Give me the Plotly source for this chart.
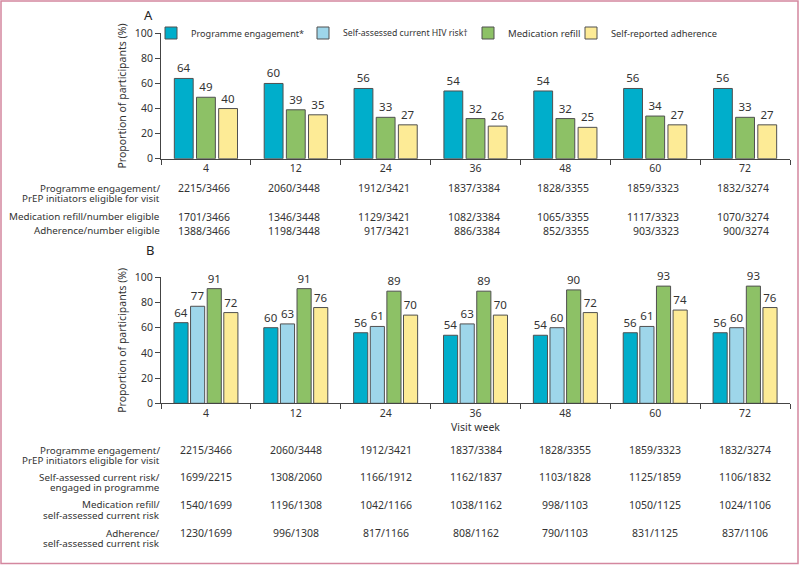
import plotly.graph_objects as go

# ---------------- data ----------------
weeks = ["4", "12", "24", "36", "48", "60", "72"]

# Panel A (% of PrEP initiators eligible for visit)
a_engagement = [64, 60, 56, 54, 54, 56, 56]
a_refill = [49, 39, 33, 32, 32, 34, 33]
a_adherence = [40, 35, 27, 26, 25, 27, 27]

# Panel B (cascade)
b_engagement = [64, 60, 56, 54, 54, 56, 56]
b_selfrisk = [77, 63, 61, 63, 60, 61, 60]
b_refill = [91, 91, 89, 89, 90, 93, 93]
b_adherence = [72, 76, 70, 70, 72, 74, 76]

series_names = ["Programme engagement*", "Self-assessed current HIV risk\u2020",
                "Medication refill", "Self-reported adherence"]

# Table under panel A
tabA_labels = [["Programme engagement/", "PrEP initiators eligible for visit"],
               ["Medication refill/number eligible"],
               ["Adherence/number eligible"]]
tabA_engagement = ["2215/3466", "2060/3448", "1912/3421", "1837/3384", "1828/3355", "1859/3323", "1832/3274"]
tabA_refill = ["1701/3466", "1346/3448", "1129/3421", "1082/3384", "1065/3355", "1117/3323", "1070/3274"]
tabA_adherence = ["1388/3466", "1198/3448", "917/3421", "886/3384", "852/3355", "903/3323", "900/3274"]

# Table under panel B
tabB_labels = [["Programme engagement/", "PrEP initiators eligible for visit"],
               ["Self-assessed current risk/", "engaged in programme"],
               ["Medication refill/", "self-assessed current risk"],
               ["Adherence/", "self-assessed current risk"]]
tabB_engagement = ["2215/3466", "2060/3448", "1912/3421", "1837/3384", "1828/3355", "1859/3323", "1832/3274"]
tabB_selfrisk = ["1699/2215", "1308/2060", "1166/1912", "1162/1837", "1103/1828", "1125/1859", "1106/1832"]
tabB_refill = ["1540/1699", "1196/1308", "1042/1166", "1038/1162", "998/1103", "1050/1125", "1024/1106"]
tabB_adherence = ["1230/1699", "996/1308", "817/1166", "808/1162", "790/1103", "831/1125", "837/1106"]

# ---------------- style ----------------
W, H = 800, 565
FONT = "Noto Sans"
TXT = "#333333"
AX = "#444444"
colors = ["#00AECB", "#9ED6EA", "#8DC166", "#FDEB96"]
OUTLINE = "#505050"
legend_ids = ["legend", "legend2", "legend3", "legend4"]
legend_left_px = [151, 303, 468, 571]
legend_font_sizes = [9.1, 8.7, 9.6, 9.3]

def px_y(py):
    return 1 - py / H

fig = go.Figure()

def add_bar(vals, k, xa, ya, show):
    fig.add_trace(go.Bar(
        x=weeks, y=vals, name=series_names[k], legendgroup=series_names[k],
        showlegend=show, legend=legend_ids[k],
        marker=dict(color=colors[k], line=dict(color=OUTLINE, width=1)),
        text=[str(v) for v in vals], textposition="outside",
        textfont=dict(family=FONT, size=11.5, color=TXT),
        constraintext="none", cliponaxis=False,
        xaxis=xa, yaxis=ya, hoverinfo="skip",
    ))

add_bar(a_engagement, 0, "x", "y", False)
add_bar(a_refill, 2, "x", "y", False)
add_bar(a_adherence, 3, "x", "y", False)

add_bar(b_engagement, 0, "x2", "y2", True)
add_bar(b_selfrisk, 1, "x2", "y2", True)
add_bar(b_refill, 2, "x2", "y2", True)
add_bar(b_adherence, 3, "x2", "y2", True)

xdom = [161 / W, 790 / W]
xcommon = dict(type="category", categoryorder="array", categoryarray=weeks,
               range=[-0.5, len(weeks) - 0.5], autorange=False,
               domain=xdom, showline=True, linecolor=AX, linewidth=1,
               ticks="outside", tickson="boundaries", ticklen=5, tickcolor=AX,
               showgrid=False, zeroline=False, automargin=False, tickangle=0,
               tickfont=dict(family=FONT, size=10.5, color=TXT))
ycommon = dict(range=[0, 100], autorange=False, dtick=20, showline=True, linecolor=AX, linewidth=1,
               ticks="outside", ticklen=5, tickcolor=AX, showgrid=False, zeroline=False,
               automargin=False,
               tickfont=dict(family=FONT, size=10.5, color=TXT),
               title=dict(text="Proportion of participants (%)", standoff=6,
                          font=dict(family=FONT, size=10.5, color=TXT)))

annotations = []
annotations.append(dict(text="A", x=148 / W, y=px_y(15), xref="paper", yref="paper",
                        showarrow=False, xanchor="center", yanchor="middle",
                        font=dict(family=FONT, size=13, color="#222222")))
annotations.append(dict(text="B", x=150 / W, y=px_y(250), xref="paper", yref="paper",
                        showarrow=False, xanchor="center", yanchor="middle",
                        font=dict(family=FONT, size=13, color="#222222")))

def add_table(labels, rows, row_tops, xref, right_align):
    for lab_lines, vals, top in zip(labels, rows, row_tops):
        for i, line in enumerate(lab_lines):
            annotations.append(dict(text=line, x=162 / W, y=px_y(top + i * 10.2),
                                    xref="paper", yref="paper", showarrow=False,
                                    xanchor="right", yanchor="middle",
                                    font=dict(family=FONT, size=9.8, color=TXT)))
        for idx, v in enumerate(vals):
            annotations.append(dict(text=v, x=idx, y=px_y(top), xref=xref, yref="paper",
                                    showarrow=False,
                                    xanchor="right" if right_align else "center",
                                    xshift=26 if right_align else 0,
                                    yanchor="middle",
                                    font=dict(family=FONT, size=10.5, color=TXT)))

add_table(tabA_labels, [tabA_engagement, tabA_refill, tabA_adherence],
          [188.3, 216.7, 231.0], "x", True)
add_table(tabB_labels, [tabB_engagement, tabB_selfrisk, tabB_refill, tabB_adherence],
          [450.0, 477.3, 505.0, 533.0], "x2", False)

legend_style = dict(orientation="h", xanchor="left", y=px_y(33), yanchor="middle",
                    bgcolor="rgba(0,0,0,0)", itemwidth=30, borderwidth=0)
legends = {lid: dict(legend_style, x=lx / W, font=dict(family=FONT, size=fs, color=TXT))
           for lid, lx, fs in zip(legend_ids, legend_left_px, legend_font_sizes)}

fig.update_layout(
    width=W, height=H, margin=dict(l=0, r=0, t=0, b=0, pad=0, autoexpand=False),
    paper_bgcolor="white", plot_bgcolor="white",
    barmode="group", bargap=0.26, bargroupgap=0.15,
    font=dict(family=FONT, size=10.5, color=TXT),
    xaxis=dict(**xcommon, anchor="y"),
    yaxis=dict(**ycommon, domain=[px_y(158.7), px_y(33.3)], anchor="x"),
    xaxis2=dict(**xcommon, anchor="y2",
                title=dict(text="Visit week", standoff=2,
                           font=dict(family=FONT, size=10.5, color=TXT))),
    yaxis2=dict(**ycommon, domain=[px_y(403.3), px_y(277.3)], anchor="x2"),
    annotations=annotations,
    shapes=[dict(type="rect", xref="paper", yref="paper", x0=1 / W, x1=798 / W,
                 y0=1.5 / H, y1=1 - 1 / H, line=dict(color="#D4879F", width=1.5))],
    showlegend=True,
    **legends,
)

fig.write_html("out.html", config={"displayModeBar": False},
               post_script="document.body.style.margin='0px';")
